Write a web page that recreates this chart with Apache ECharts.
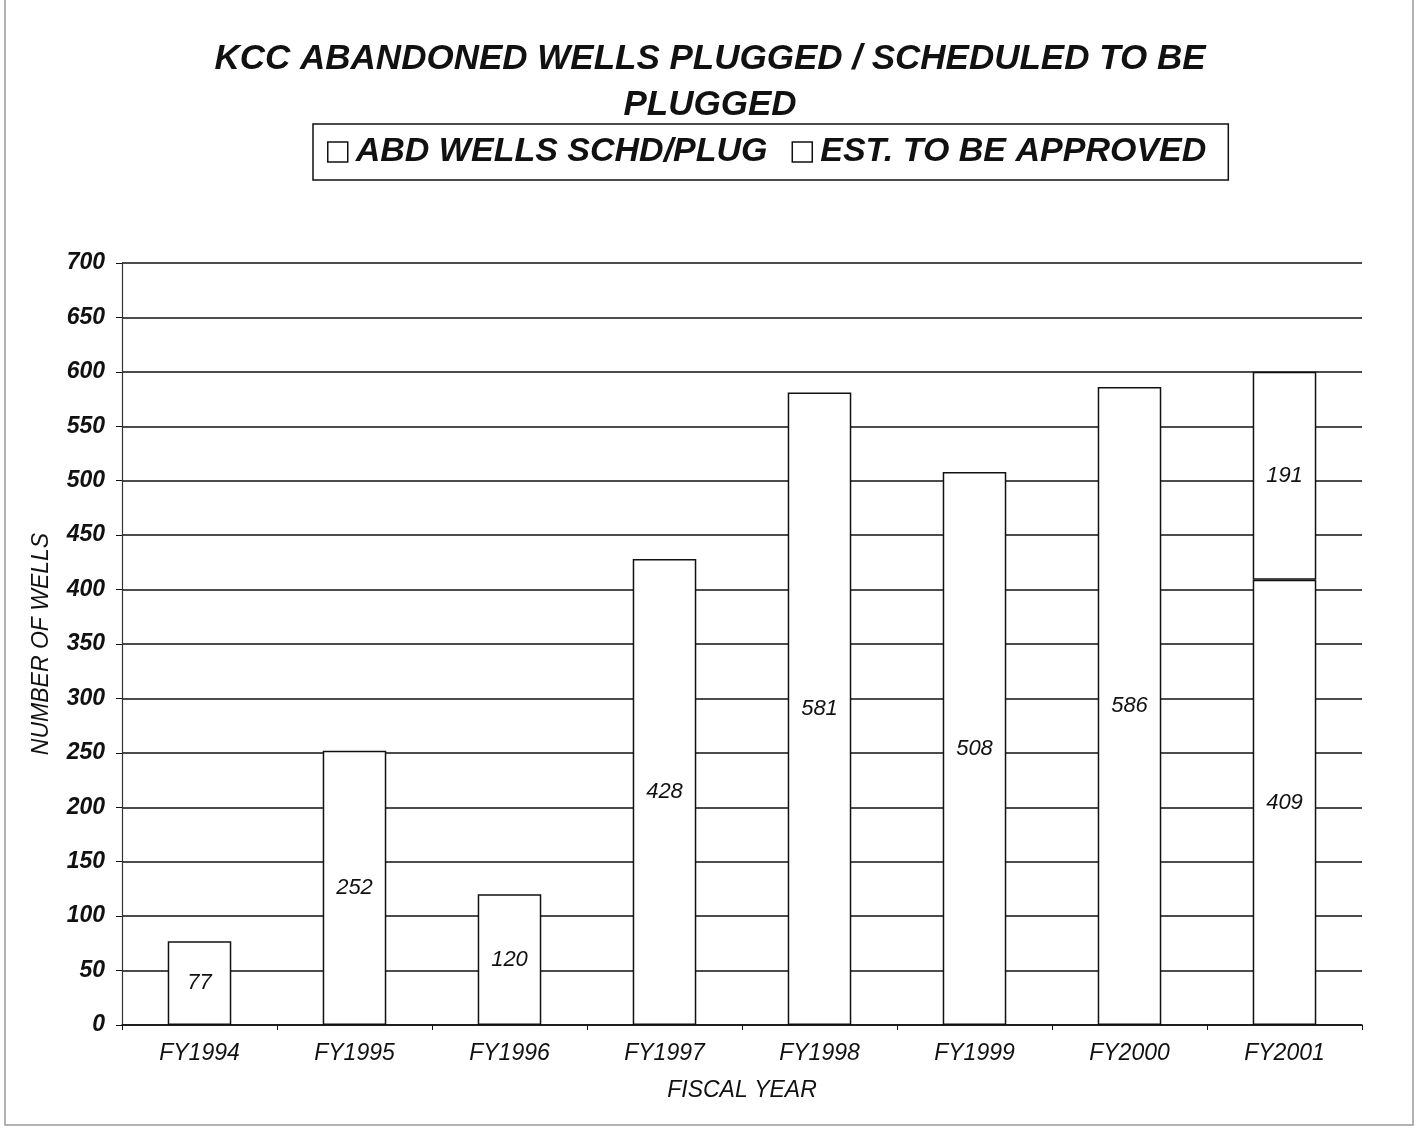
<!DOCTYPE html>
<html>
<head>
<meta charset="utf-8">
<script src="https://cdn.jsdelivr.net/npm/echarts@6/dist/echarts.min.js"></script>
<style>html,body{margin:0;padding:0;background:#fff}#c{width:1420px;height:1129px}</style>
</head>
<body>
<div id="c"></div>
<script>
const categories = ['FY1994','FY1995','FY1996','FY1997','FY1998','FY1999','FY2000','FY2001'];
const schdPlug = [77, 252, 120, 428, 581, 508, 586, 409];
const estApproved = [null, null, null, null, null, null, null, 191];
const seriesNames = ['ABD WELLS SCHD/PLUG', 'EST. TO BE APPROVED'];

const font = 'Liberation Sans, Arial, sans-serif';
const chart = echarts.init(document.getElementById('c'));
const barStyle = { color: '#fff', borderColor: '#111', borderWidth: 1.5 };
const lbl = { show: true, position: 'inside', color: '#111', fontStyle: 'italic', fontSize: 22, fontFamily: font };
chart.setOption({
  animation: false,
  backgroundColor: '#fff',
  title: {
    text: 'KCC ABANDONED WELLS PLUGGED / SCHEDULED TO BE\nPLUGGED',
    left: 705, top: 31, textAlign: 'center',
    textStyle: { fontSize: 35, fontStyle: 'italic', fontWeight: 'bold', color: '#111', fontFamily: font, lineHeight: 46 }
  },
  legend: {
    left: 313, top: 124, width: 914,
    padding: [11, 22, 11, 14],
    borderColor: '#111', borderWidth: 1.5,
    icon: 'rect',
    itemWidth: 20, itemHeight: 20, itemGap: 24,
    itemStyle: { color: '#fff', borderColor: '#111', borderWidth: 1.5 },
    data: seriesNames,
    textStyle: { fontSize: 34, fontStyle: 'italic', fontWeight: 'bold', color: '#111', fontFamily: font, padding: [0,0,0,3] }
  },
  graphic: [{ type: 'rect', shape: { x: 5, y: -5, width: 1408, height: 1130 }, style: { fill: 'none', stroke: '#999', lineWidth: 1.5 } }],
  grid: { left: 122, right: 58, top: 263, bottom: 104 },
  xAxis: {
    type: 'category', data: categories,
    name: 'FISCAL YEAR', nameLocation: 'middle', nameGap: 54,
    nameTextStyle: { fontSize: 23, fontStyle: 'italic', color: '#111', fontFamily: font },
    axisLine: { lineStyle: { color: '#111', width: 1.5 } },
    axisTick: { show: true, length: 5, lineStyle: { color: '#111' } },
    axisLabel: { fontSize: 23, fontStyle: 'italic', color: '#111', fontFamily: font, margin: 17 }
  },
  yAxis: {
    type: 'value', min: 0, max: 700, interval: 50,
    name: 'NUMBER OF WELLS', nameLocation: 'middle', nameGap: 69, nameRotate: 90,
    nameTextStyle: { fontSize: 23, fontStyle: 'italic', color: '#111', fontFamily: font },
    axisLine: { show: true, lineStyle: { color: '#333', width: 1.2 } },
    axisTick: { show: true, length: 6, lineStyle: { color: '#111' } },
    axisLabel: { fontSize: 23, fontStyle: 'italic', fontWeight: 'bold', color: '#111', fontFamily: font, margin: 17 },
    splitLine: { lineStyle: { color: '#111', width: 1.5 } }
  },
  series: [
    { name: seriesNames[0], type: 'bar', stack: 'a', data: schdPlug, barWidth: '41%', itemStyle: barStyle, label: lbl },
    { name: seriesNames[1], type: 'bar', stack: 'a', data: estApproved, barWidth: '41%', itemStyle: barStyle, label: lbl }
  ]
});
</script>
</body>
</html>
